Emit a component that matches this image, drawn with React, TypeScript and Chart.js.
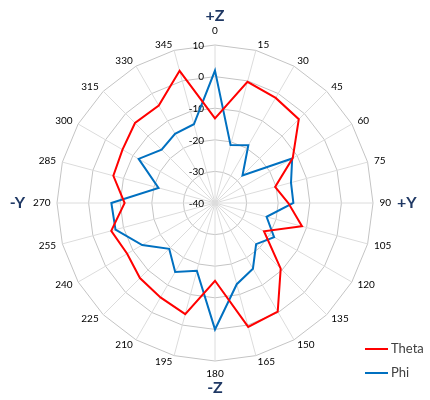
import React, { useEffect, useRef } from "react";
import { Chart, registerables } from "chart.js";

Chart.register(...registerables);

const angleLabels = ["0", "15", "30", "45", "60", "75", "90", "105", "120", "135", "150", "165", "180", "195", "210", "225", "240", "255", "270", "285", "300", "315", "330", "345"];
const thetaValues = [-13.2, -0.3, -1.6, -2.5, -11.6, -20.3, -16.8, -11.5, -22.1, -10.6, -0.3, 0.6, -15.4, -3.6, -5.5, -6.4, -7.9, -6.0, -11.4, -6.7, -6.2, -4.2, -4.4, 3.3];
const phiValues = [1.9, -21.0, -18.9, -27.7, -11.8, -15.1, -15.2, -23.1, -18.4, -21.6, -16.0, -13.4, 0.0, -17.8, -14.8, -19.5, -13.4, -7.4, -7.2, -21.5, -12.1, -16.1, -14.7, -14.2];
const axisMin = -40;
const axisMax = 10;
const axisStep = 10;
const seriesNames = ["Theta", "Phi"];
const seriesColors = ["#ff0000", "#0070c0"];
const directionLabels = ["+Z", "+Y", "-Z", "-Y"];

const NUM_FONT = "10px Lato, 'Liberation Sans', sans-serif";

const labelsPlugin = {
  id: "customLabels",
  beforeDatasetsDraw(chart: any) {
    const scale = chart.scales.r;
    const ctx = chart.ctx;
    ctx.save();
    // tick labels
    ctx.font = NUM_FONT;
    ctx.fillStyle = "#000000";
    ctx.textAlign = "right";
    ctx.textBaseline = "middle";
    scale.ticks.forEach((t: any) => {
      const d = scale.getDistanceFromCenterForValue(t.value);
      ctx.fillText(String(t.value), scale.xCenter - 11, scale.yCenter - d + 0.5);
    });
    // point labels
    const n = chart.data.labels.length;
    for (let i = 0; i < n; i++) {
      const deg = (360 / n) * i;
      const a = (deg * Math.PI) / 180;
      const p = scale.getPointPosition(i, scale.drawingArea);
      const s = Math.sin(a);
      const c = Math.cos(a);
      let x = p.x;
      let y = p.y;
      if (deg === 0) {
        ctx.textAlign = "center";
        y = p.y - 14;
      } else if (deg === 180) {
        ctx.textAlign = "center";
        y = p.y + 13;
      } else {
        ctx.textAlign = s > 0 ? "left" : "right";
        x = p.x + 6.5 * s;
        y = p.y - 6 * c;
      }
      ctx.fillText(chart.data.labels[i], x, y);
    }
    // direction labels
    ctx.font = "bold 16px Lato, 'Liberation Sans', sans-serif";
    ctx.fillStyle = "#1f3864";
    ctx.textBaseline = "middle";
    const R = scale.drawingArea;
    ctx.textAlign = "center";
    ctx.fillText(directionLabels[0], scale.xCenter, scale.yCenter - R - 29);
    ctx.fillText(directionLabels[2], scale.xCenter, scale.yCenter + R + 27);
    ctx.textAlign = "left";
    ctx.fillText(directionLabels[1], scale.xCenter + R + 24, scale.yCenter);
    ctx.textAlign = "right";
    ctx.fillText(directionLabels[3], scale.xCenter - R - 32, scale.yCenter);
    ctx.restore();
  },
  afterDraw(chart: any) {
    const ctx = chart.ctx;
    ctx.save();
    ctx.font = "13px Lato, 'Liberation Sans', sans-serif";
    ctx.textAlign = "left";
    ctx.textBaseline = "middle";
    chart.data.datasets.forEach((ds: any, i: number) => {
      const y = 349 + i * 24;
      ctx.strokeStyle = ds.borderColor;
      ctx.lineWidth = 2;
      ctx.beginPath();
      ctx.moveTo(365, y);
      ctx.lineTo(388, y);
      ctx.stroke();
      ctx.fillStyle = "#404040";
      ctx.fillText(ds.label, 391, y);
    });
    ctx.restore();
  },
};

export default function App() {
  const ref = useRef<HTMLCanvasElement | null>(null);
  useEffect(() => {
    if (!ref.current) return;
    const chart = new Chart(ref.current, {
      type: "radar",
      data: {
        labels: angleLabels,
        datasets: [
          { label: seriesNames[0], data: thetaValues, borderColor: seriesColors[0], backgroundColor: seriesColors[0], borderWidth: 2, pointRadius: 0, fill: false, tension: 0 },
          { label: seriesNames[1], data: phiValues, borderColor: seriesColors[1], backgroundColor: seriesColors[1], borderWidth: 2, pointRadius: 0, fill: false, tension: 0 },
        ],
      },
      options: {
        animation: false,
        responsive: false,
        layout: { padding: { left: 57, top: 45, right: 57, bottom: 39 } },
        plugins: { legend: { display: false }, tooltip: { enabled: false } },
        elements: { line: { borderJoinStyle: "miter" } },
        scales: {
          r: {
            min: axisMin,
            max: axisMax,
            ticks: { stepSize: axisStep, display: false },
            grid: { color: "#c4c4c4", circular: false, lineWidth: 1 },
            angleLines: { color: "#dcdcdc", lineWidth: 1 },
            pointLabels: { display: false },
          },
        },
      },
      plugins: [labelsPlugin],
    });
    return () => chart.destroy();
  }, []);
  return (
    <div style={{ position: "fixed", left: 0, top: 0, width: 430, height: 400, background: "#ffffff" }}>
      <canvas ref={ref} width={430} height={400} style={{ width: 430, height: 400, display: "block" }} />
    </div>
  );
}
